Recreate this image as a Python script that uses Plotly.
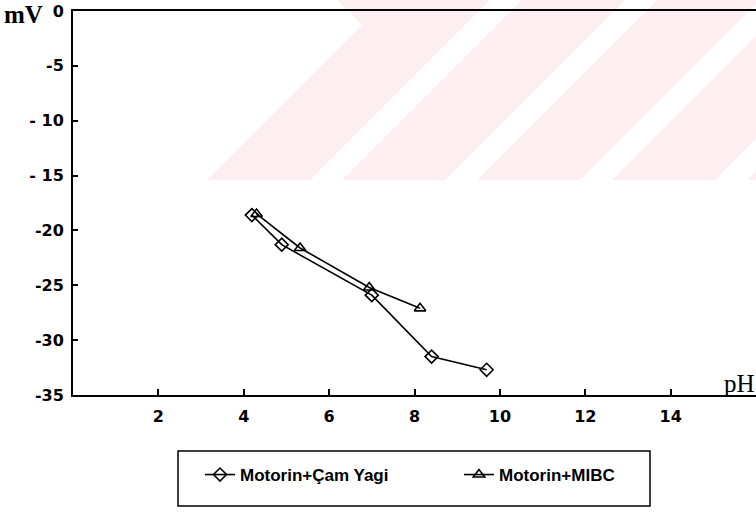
import plotly.graph_objects as go

# ---- data ----
cam_ph = [4.19, 4.89, 7.00, 8.40, 9.69]
cam_mv = [-18.6, -21.3, -25.9, -31.5, -32.7]
mibc_ph = [4.30, 5.32, 6.94, 8.13]
mibc_mv = [-18.5, -21.6, -25.2, -27.1]
series_names = ["Motorin+Çam Yagi", "Motorin+MIBC"]
x_ticks = [2, 4, 6, 8, 10, 12, 14]
y_ticks = [0, -5, -10, -15, -20, -25, -30, -35]
y_ticktext = ["0", "-5", "- 10", "- 15", "-20", "-25", "-30", "-35"]

W, H = 756, 512
L, R, T, B = 73, 0, 11, 117
PW, PH = W - L - R, H - T - B


def px(x):
    return (x - L) / PW


def py(y):
    return (H - B - y) / PH


SANS = "Liberation Sans"
SERIF = "Liberation Serif"
TICKF = dict(family="DejaVu Sans", size=16, color="black", weight="bold")

fig = go.Figure()
fig.add_trace(go.Scatter(
    x=cam_ph, y=cam_mv, name=series_names[0], mode="lines+markers",
    line=dict(color="black", width=1.6),
    marker=dict(symbol="diamond-open", size=10, color="black", line=dict(width=1.6)),
))
fig.add_trace(go.Scatter(
    x=mibc_ph, y=mibc_mv, name=series_names[1], mode="lines+markers",
    line=dict(color="black", width=1.6),
    marker=dict(symbol="triangle-up-open", size=10, color="black", line=dict(width=1.6)),
))

# watermark stripes (decoration)
shapes = []
pink = "#fdeef1"
for k in range(5):
    bl = 207 + 135 * k
    w = 103
    if k == 0:
        pts = [(bl, 180), (bl + w, 180), (bl + w + 180, 0), (337, 0), (362, 25)]
    else:
        pts = [(bl, 180), (bl + w, 180), (bl + w + 180, 0), (bl + 180, 0)]
    path = "M " + " L ".join(f"{px(a):.4f},{py(b):.4f}" for a, b in pts) + " Z"
    shapes.append(dict(type="path", xref="paper", yref="paper", path=path,
                       fillcolor=pink, line=dict(width=0), layer="below"))

# legend box
shapes.append(dict(type="rect", xref="paper", yref="paper",
                   x0=px(178), x1=px(650), y0=py(451), y1=py(506),
                   line=dict(color="black", width=1.5), fillcolor="rgba(0,0,0,0)"))

fig.update_layout(
    width=W, height=H,
    margin=dict(l=L, r=R, t=T, b=B),
    paper_bgcolor="white", plot_bgcolor="rgba(0,0,0,0)",
    showlegend=True,
    legend=dict(orientation="h", x=px(200), xanchor="left", y=py(475), yanchor="middle",
                font=dict(family=SANS, size=17, color="black", weight="bold"),
                bgcolor="rgba(0,0,0,0)", borderwidth=0,
                entrywidth=214, entrywidthmode="pixels"),
    shapes=shapes,
    xaxis=dict(range=[0, 16], tickvals=x_ticks,
               ticks="inside", ticklen=6, tickwidth=1.5,
               tickcolor="black", showline=True, linecolor="black", linewidth=2, mirror=True,
               showgrid=False, zeroline=False, tickfont=TICKF, ticklabelstandoff=6),
    yaxis=dict(range=[-35, 0], tickvals=y_ticks, ticktext=y_ticktext,
               ticks="inside", ticklen=5, tickwidth=1.5, tickcolor="black", showline=True,
               linecolor="black", linewidth=2, showgrid=False, zeroline=False, tickfont=TICKF,
               ticklabelstandoff=4),
    annotations=[
        dict(text="mV", xref="paper", yref="paper", x=px(2), y=py(15), xanchor="left",
             yanchor="middle", showarrow=False,
             font=dict(family=SERIF, size=25, color="black", weight="bold")),
        dict(text="pH", xref="paper", yref="paper", x=px(757), y=py(383), xanchor="right",
             yanchor="middle", showarrow=False,
             font=dict(family=SERIF, size=25, color="black")),
    ],
)

fig.write_html("out.html")
